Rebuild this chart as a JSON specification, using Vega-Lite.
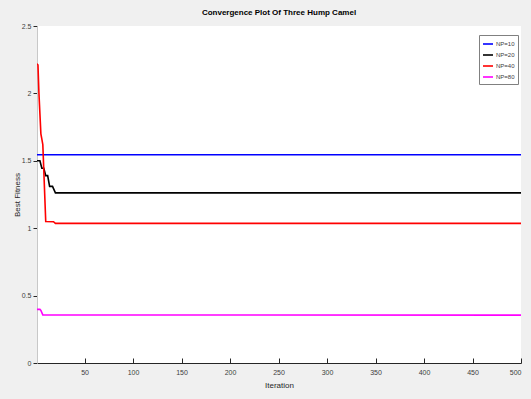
{
  "$schema": "https://vega.github.io/schema/vega-lite/v6.json",
  "autosize": "none",
  "width": 484,
  "height": 337,
  "padding": {"left": 37, "top": 26, "right": 10, "bottom": 36},
  "background": "#f0f0f0",
  "title": {"text": "Convergence Plot Of Three Hump Camel", "fontSize": 8, "font": "Liberation Sans", "fontWeight": "bold", "color": "#000000", "offset": 5, "anchor": "middle"},
  "config": {
    "view": {"fill": "white", "stroke": null},
    "font": "Liberation Sans"
  },
  "data": {"values": [
    {"s": "NP=10", "it": 1, "f": 1.545},
    {"s": "NP=10", "it": 500, "f": 1.545},
    {"s": "NP=20", "it": 1, "f": 1.5},
    {"s": "NP=20", "it": 4, "f": 1.5},
    {"s": "NP=20", "it": 6, "f": 1.445},
    {"s": "NP=20", "it": 8, "f": 1.445},
    {"s": "NP=20", "it": 10, "f": 1.39},
    {"s": "NP=20", "it": 12, "f": 1.39},
    {"s": "NP=20", "it": 14, "f": 1.31},
    {"s": "NP=20", "it": 17, "f": 1.31},
    {"s": "NP=20", "it": 20, "f": 1.262},
    {"s": "NP=20", "it": 500, "f": 1.262},
    {"s": "NP=40", "it": 1, "f": 2.22},
    {"s": "NP=40", "it": 2, "f": 2.21},
    {"s": "NP=40", "it": 3, "f": 2.0},
    {"s": "NP=40", "it": 5, "f": 1.7},
    {"s": "NP=40", "it": 6, "f": 1.66},
    {"s": "NP=40", "it": 7, "f": 1.62},
    {"s": "NP=40", "it": 10, "f": 1.05},
    {"s": "NP=40", "it": 18, "f": 1.048},
    {"s": "NP=40", "it": 20, "f": 1.036},
    {"s": "NP=40", "it": 500, "f": 1.036},
    {"s": "NP=80", "it": 1, "f": 0.398},
    {"s": "NP=80", "it": 4, "f": 0.398},
    {"s": "NP=80", "it": 5, "f": 0.39},
    {"s": "NP=80", "it": 7, "f": 0.357},
    {"s": "NP=80", "it": 500, "f": 0.355}
  ]},
  "mark": {"type": "line", "strokeWidth": 1.6, "clip": true},
  "encoding": {
    "x": {"field": "it", "type": "quantitative", "scale": {"domain": [1, 500], "nice": false, "zero": false},
      "axis": {"title": "Iteration", "values": [50, 100, 150, 200, 250, 300, 350, 400, 450, 500], "grid": false, "domainColor": "#262626", "tickColor": "#262626", "tickSize": -5, "labelFontSize": 7, "labelColor": "#404040", "labelPadding": 10, "titleFontSize": 8, "titleFontWeight": "normal", "titleColor": "#262626", "titlePadding": 6}},
    "y": {"field": "f", "type": "quantitative", "scale": {"domain": [0, 2.5], "nice": false},
      "axis": {"title": "Best Fitness", "values": [0, 0.5, 1, 1.5, 2, 2.5], "labelExpr": "'' + datum.value", "grid": false, "domainColor": "#c8c8c8", "tickColor": "#262626", "tickSize": 4, "labelFontSize": 7, "labelColor": "#404040", "labelPadding": 2, "titleFontSize": 8, "titleFontWeight": "normal", "titleColor": "#262626", "titlePadding": 0}},
    "color": {"field": "s", "type": "nominal",
      "scale": {"domain": ["NP=10", "NP=20", "NP=40", "NP=80"], "range": ["#0000ff", "#000000", "#ff0000", "#ff00ff"]},
      "legend": {"title": null, "orient": "none", "legendX": 442, "legendY": 9, "symbolType": "stroke", "symbolSize": 100, "symbolStrokeWidth": 1.6, "labelFontSize": 6, "labelColor": "#404040", "rowPadding": 1, "padding": 3, "strokeColor": "#808080", "fillColor": "white", "labelOffset": 2}}
  }
}
